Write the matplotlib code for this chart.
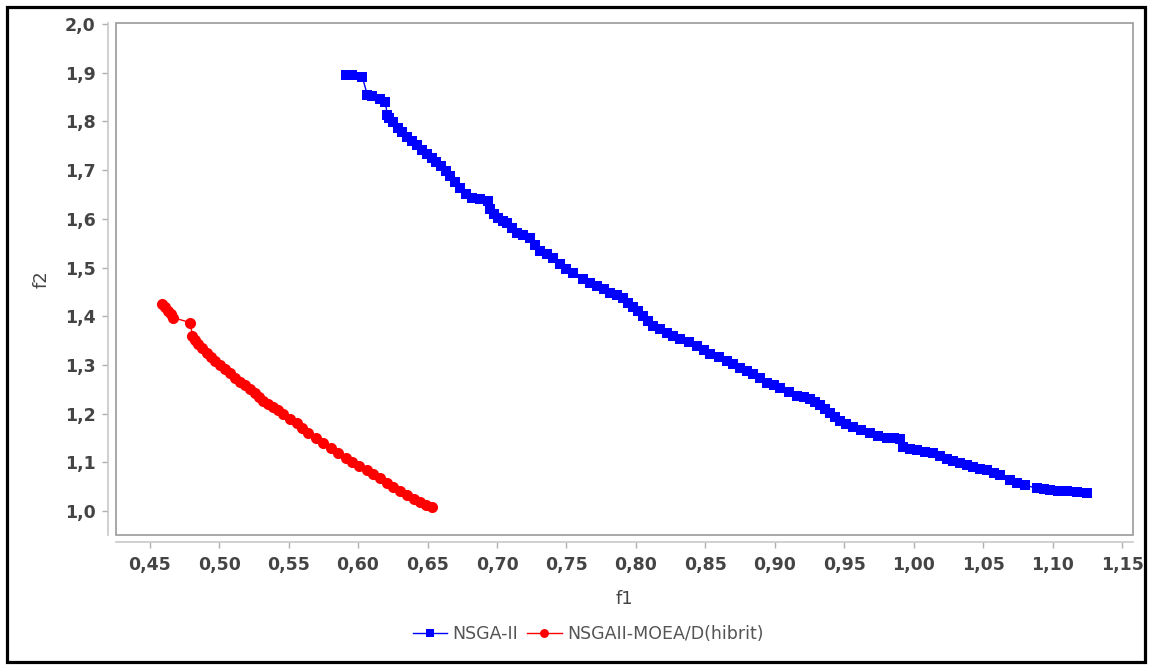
import numpy as np
import matplotlib
matplotlib.use("Agg")
import matplotlib.pyplot as plt
from matplotlib.patches import Rectangle

# NSGA-II front
nsga_f1 = [0.5915, 0.5960, 0.6030, 0.6066, 0.6102, 0.6160, 0.6196, 0.6210, 0.6225, 0.6253,
           0.6289, 0.6318, 0.6354, 0.6390, 0.6426, 0.6462, 0.6498, 0.6534, 0.6563, 0.6599,
           0.6630, 0.6663, 0.6700, 0.6735, 0.6780, 0.6822, 0.6879, 0.6937, 0.6951, 0.6980,
           0.7009, 0.7040, 0.7074, 0.7110, 0.7146, 0.7190, 0.7239, 0.7275, 0.7311, 0.7360,
           0.7405, 0.7455, 0.7500, 0.7549, 0.7620, 0.7670, 0.7721, 0.7770, 0.7814, 0.7860,
           0.7908, 0.7945, 0.7980, 0.8015, 0.8052, 0.8090, 0.8124, 0.8175, 0.8225, 0.8270,
           0.8318, 0.8380, 0.8440, 0.8490, 0.8534, 0.8595, 0.8656, 0.8700, 0.8750, 0.8800,
           0.8843, 0.8890, 0.8944, 0.8990, 0.9038, 0.9100, 0.9160, 0.9210, 0.9253, 0.9290,
           0.9325, 0.9360, 0.9397, 0.9430, 0.9469, 0.9515, 0.9563, 0.9620, 0.9685, 0.9745,
           0.9807, 0.9855, 0.9901, 0.9923, 0.9970, 1.0023, 1.0080, 1.0138, 1.0190, 1.0239,
           1.0285, 1.0332, 1.0380, 1.0426, 1.0475, 1.0527, 1.0575, 1.0620, 1.0692, 1.0745,
           1.0800, 1.0887, 1.0935, 1.0980, 1.1040, 1.1102, 1.1175, 1.1246]
nsga_f2 = [1.896, 1.895, 1.892, 1.855, 1.853, 1.847, 1.840, 1.814, 1.806, 1.798,
           1.786, 1.779, 1.769, 1.759, 1.751, 1.742, 1.734, 1.724, 1.716, 1.708,
           1.698, 1.687, 1.675, 1.663, 1.652, 1.642, 1.640, 1.636, 1.620, 1.610,
           1.601, 1.596, 1.591, 1.581, 1.571, 1.566, 1.560, 1.547, 1.534, 1.527,
           1.519, 1.507, 1.498, 1.489, 1.476, 1.469, 1.462, 1.455, 1.448, 1.443,
           1.438, 1.428, 1.419, 1.410, 1.401, 1.390, 1.380, 1.373, 1.366, 1.360,
           1.354, 1.347, 1.339, 1.331, 1.323, 1.316, 1.309, 1.301, 1.294, 1.288,
           1.282, 1.273, 1.264, 1.258, 1.252, 1.245, 1.237, 1.234, 1.231, 1.224,
           1.217, 1.210, 1.202, 1.194, 1.186, 1.179, 1.172, 1.166, 1.160, 1.155,
           1.151, 1.150, 1.149, 1.131, 1.128, 1.125, 1.122, 1.119, 1.113, 1.108,
           1.103, 1.098, 1.094, 1.090, 1.087, 1.084, 1.079, 1.074, 1.063, 1.058,
           1.053, 1.047, 1.045, 1.043, 1.042, 1.041, 1.039, 1.037]

# hibrido NSGAII-MOEA/D
hib_f1 = [0.4591, 0.4610, 0.4635, 0.4655, 0.4671, 0.4793, 0.4807, 0.4830, 0.4850, 0.4880,
          0.4915, 0.4945, 0.4973, 0.5010, 0.5045, 0.5080, 0.5117, 0.5150, 0.5189, 0.5225,
          0.5261, 0.5290, 0.5318, 0.5355, 0.5390, 0.5425, 0.5462, 0.5510, 0.5563, 0.5600,
          0.5642, 0.5695, 0.5750, 0.5805, 0.5858, 0.5910, 0.5958, 0.6010, 0.6066, 0.6110,
          0.6160, 0.6205, 0.6253, 0.6300, 0.6354, 0.6400, 0.6448, 0.6490, 0.6534]
hib_f2 = [1.425, 1.419, 1.411, 1.404, 1.397, 1.387, 1.360, 1.352, 1.344, 1.335,
          1.325, 1.317, 1.309, 1.300, 1.292, 1.283, 1.274, 1.266, 1.258, 1.250,
          1.243, 1.235, 1.227, 1.220, 1.213, 1.207, 1.200, 1.190, 1.180, 1.170,
          1.160, 1.150, 1.139, 1.129, 1.119, 1.110, 1.100, 1.092, 1.084, 1.076,
          1.067, 1.058, 1.049, 1.041, 1.033, 1.025, 1.018, 1.013, 1.008]

xticks = [0.45, 0.50, 0.55, 0.60, 0.65, 0.70, 0.75, 0.80, 0.85, 0.90, 0.95, 1.00, 1.05, 1.10, 1.15]
xtick_labels = ["0,45", "0,50", "0,55", "0,60", "0,65", "0,70", "0,75", "0,80", "0,85",
                "0,90", "0,95", "1,00", "1,05", "1,10", "1,15"]
yticks = [1.0, 1.1, 1.2, 1.3, 1.4, 1.5, 1.6, 1.7, 1.8, 1.9, 2.0]
ytick_labels = ["1,0", "1,1", "1,2", "1,3", "1,4", "1,5", "1,6", "1,7", "1,8", "1,9", "2,0"]

# negrita por defecto (etiquetas de los ticks); el resto se pone normal a mano
plt.rcParams["font.weight"] = "bold"

W, H = 1151, 668
gris = "#444444"
fig = plt.figure(figsize=(W / 100, H / 100), dpi=100)
ax = fig.add_axes([116 / W, 1 - 535 / H, (1133 - 116) / W, (535 - 23) / H])

ax.plot(nsga_f1, nsga_f2, color="#0000ff", lw=1, marker="s", ms=7.2, mew=0,
        label="NSGA-II")
ax.plot(hib_f1, hib_f2, color="#ff0000", lw=1, marker="o", ms=8, mew=0,
        label="NSGAII-MOEA/D(hibrit)")

ax.set_xlim(0.4258, 1.1577)
ax.set_ylim(0.951, 2.002)
ax.set_xticks(xticks, xtick_labels)
ax.set_yticks(yticks, ytick_labels)
ax.tick_params(axis="both", direction="out", length=4, width=1, color="#b0b0b0",
               labelsize=12.5, labelcolor=gris)
ax.tick_params(axis="x", pad=6)
ax.tick_params(axis="y", pad=5)

# ejes separados del area de dibujo, estilo JFreeChart
ax.spines["top"].set_visible(False)
ax.spines["right"].set_visible(False)
ax.spines["left"].set_position(("outward", 5.8))
ax.spines["bottom"].set_position(("outward", 5.0))
for s in ["left", "bottom"]:
    ax.spines[s].set_color("#c8c8c8")
    ax.spines[s].set_linewidth(1.2)
ax.add_patch(Rectangle((0, 0), 1, 1, transform=ax.transAxes, fill=False,
                       edgecolor="#999999", lw=1.2, zorder=5, clip_on=False))

ax.set_xlabel("f1", fontsize=13, color=gris, labelpad=12, fontweight="normal")
ax.set_ylabel("f2", fontsize=13, color=gris, labelpad=10, fontweight="normal")

leg = fig.legend(loc="center", bbox_to_anchor=(588 / W, 1 - 634 / H), ncol=2,
                 frameon=False, prop={"size": 12.5, "weight": "normal"},
                 handlelength=2.0, handletextpad=0.3, columnspacing=0.5,
                 markerscale=0.8)
for t in leg.get_texts():
    t.set_color("#555555")

# marco negro exterior
fig.patches.append(Rectangle((6.5 / W, 6.5 / H), (W - 13) / W, (H - 13) / H,
                             transform=fig.transFigure, fill=False,
                             edgecolor="black", lw=2.3, figure=fig))

fig.savefig("out.png", dpi=100)
